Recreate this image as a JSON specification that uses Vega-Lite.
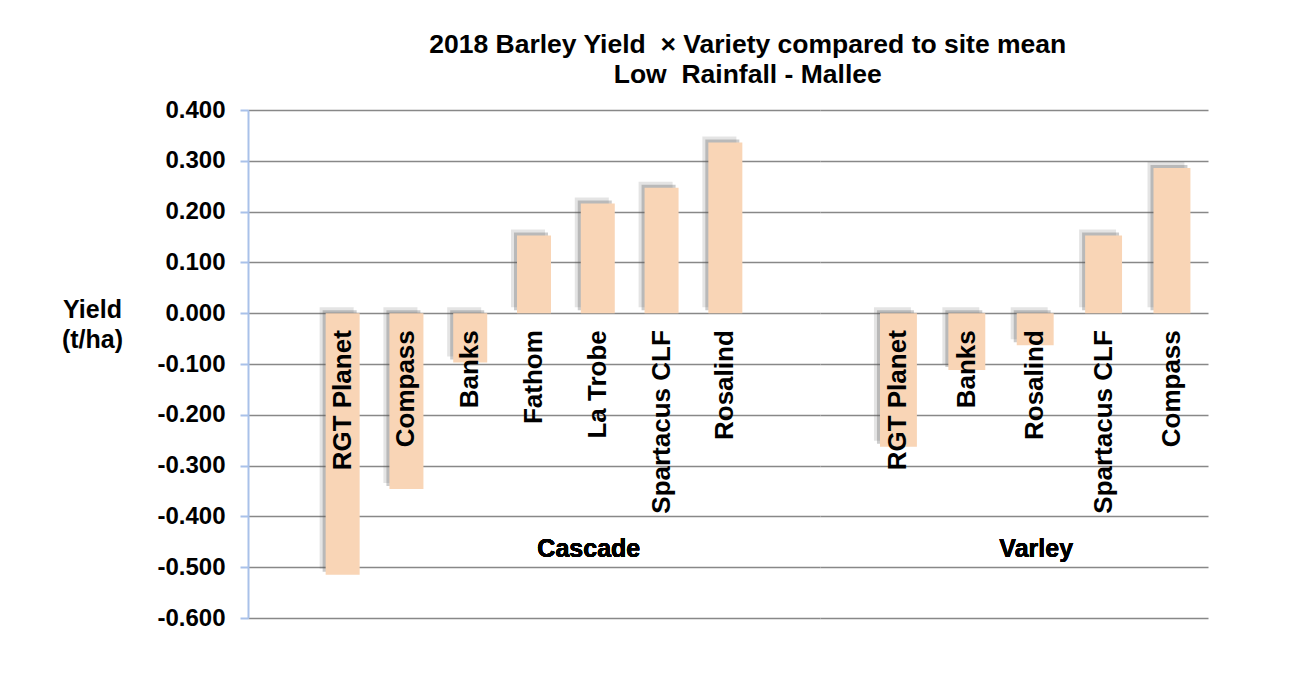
{
  "$schema": "https://vega.github.io/schema/vega-lite/v6.json",
  "background": "white",
  "padding": {"left": 61, "top": 31, "right": 5, "bottom": 5},
  "config": {"view": {"stroke": null}, "font": "Liberation Sans", "concat": {"spacing": 0}},
  "spacing": 0,
  "title": {
    "text": ["2018 Barley Yield\u00a0 × Variety compared to site mean", "Low\u00a0 Rainfall - Mallee"],
    "font": "Liberation Sans", "fontSize": 26.5, "fontWeight": "bold", "color": "#000000",
    "anchor": "middle", "dx": 113, "offset": 10, "lineHeight": 30
  },
  "data": {"values": [
    {"site": "Cascade", "variety": "RGT Planet", "yield": -0.515},
    {"site": "Cascade", "variety": "Compass", "yield": -0.346},
    {"site": "Cascade", "variety": "Banks", "yield": -0.097},
    {"site": "Cascade", "variety": "Fathom", "yield": 0.153},
    {"site": "Cascade", "variety": "La Trobe", "yield": 0.216},
    {"site": "Cascade", "variety": "Spartacus CLF", "yield": 0.247},
    {"site": "Cascade", "variety": "Rosalind", "yield": 0.336},
    {"site": "Varley", "variety": "RGT Planet", "yield": -0.263},
    {"site": "Varley", "variety": "Banks", "yield": -0.112},
    {"site": "Varley", "variety": "Rosalind", "yield": -0.063},
    {"site": "Varley", "variety": "Spartacus CLF", "yield": 0.153},
    {"site": "Varley", "variety": "Compass", "yield": 0.286}
  ]},
  "resolve": {"scale": {"x": "independent", "y": "independent"}},
  "hconcat": [
    {
      "width": 572, "height": 508,
      "transform": [{"filter": "datum.site === 'Cascade'"}],
      "encoding": {
        "x": {"field": "variety", "type": "nominal", "sort": null, "axis": null,
              "scale": {"paddingInner": 0, "paddingOuter": 0.984}}
      },
      "layer": [
        {
          "mark": {"type": "bar", "color": "#555555", "opacity": 0.16, "width": {"band": 0.533}, "xOffset": -6, "yOffset": -6, "y2Offset": -6},
          "encoding": {
            "y": {"field": "yield", "type": "quantitative",
                  "scale": {"domain": [-0.6, 0.4], "nice": false, "zero": false},
                  "axis": {
                    "values": [-0.6, -0.5, -0.4, -0.3, -0.2, -0.1, 0, 0.1, 0.2, 0.3, 0.4],
                    "labelExpr": "replace(format(datum.value, '.3f'), '−', '-')",
                    "labelFont": "Liberation Sans", "labelFontSize": 24, "labelFontWeight": "bold", "labelColor": "#000000",
                    "labelPadding": 15,
                    "tickColor": "#A9C1E9", "tickSize": 8, "tickWidth": 2,
                    "domainColor": "#A9C1E9", "domainWidth": 2,
                    "grid": true, "gridColor": "#888888", "gridWidth": 1.6,
                    "title": ["Yield", "(t/ha)"], "titleAngle": 0, "titleAlign": "center", "titleBaseline": "top",
                    "titleX": -156, "titleY": 187, "titleFont": "Liberation Sans", "titleFontSize": 25,
                    "titleFontWeight": "bold", "titleColor": "#000000", "titleLineHeight": 30
                  }}
          }
        },
        {
          "mark": {"type": "bar", "color": "#555555", "opacity": 0.3, "width": {"band": 0.533}, "xOffset": -3, "yOffset": -3, "y2Offset": -3},
          "encoding": {"y": {"field": "yield", "type": "quantitative"}}
        },
        {
          "mark": {"type": "bar", "color": "#F9D5B6", "width": {"band": 0.533}},
          "encoding": {"y": {"field": "yield", "type": "quantitative"}}
        },
        {
          "mark": {"type": "text", "angle": 270, "align": "right", "baseline": "middle", "dx": -17,
                   "font": "Liberation Sans", "fontSize": 26, "fontWeight": "bold", "color": "#000000"},
          "encoding": {"text": {"field": "variety"}, "y": {"datum": 0}}
        },
        {
          "mark": {"type": "text", "align": "center", "baseline": "middle", "dx": -9,
                   "font": "Liberation Sans", "fontSize": 25, "fontWeight": "bold", "color": "#000000"},
          "encoding": {"x": {"datum": "La Trobe"}, "y": {"datum": -0.465}, "text": {"value": "Cascade"}}
        }
      ]
    },
    {
      "width": 388, "height": 508,
      "transform": [{"filter": "datum.site === 'Varley'"}],
      "encoding": {
        "x": {"field": "variety", "type": "nominal", "sort": null, "axis": null,
              "scale": {"paddingInner": 0, "paddingOuter": 0.337, "align": 0.96}}
      },
      "layer": [
        {
          "mark": {"type": "bar", "color": "#555555", "opacity": 0.16, "width": {"band": 0.54}, "xOffset": -6, "yOffset": -6, "y2Offset": -6},
          "encoding": {
            "y": {"field": "yield", "type": "quantitative",
                  "scale": {"domain": [-0.6, 0.4], "nice": false, "zero": false},
                  "axis": {
                    "values": [-0.6, -0.5, -0.4, -0.3, -0.2, -0.1, 0, 0.1, 0.2, 0.3, 0.4],
                    "labels": false, "ticks": false, "domain": false, "title": null,
                    "grid": true, "gridColor": "#888888", "gridWidth": 1.6
                  }}
          }
        },
        {
          "mark": {"type": "bar", "color": "#555555", "opacity": 0.3, "width": {"band": 0.54}, "xOffset": -3, "yOffset": -3, "y2Offset": -3},
          "encoding": {"y": {"field": "yield", "type": "quantitative"}}
        },
        {
          "mark": {"type": "bar", "color": "#F9D5B6", "width": {"band": 0.54}},
          "encoding": {"y": {"field": "yield", "type": "quantitative"}}
        },
        {
          "mark": {"type": "text", "angle": 270, "align": "right", "baseline": "middle", "dx": -17,
                   "font": "Liberation Sans", "fontSize": 26, "fontWeight": "bold", "color": "#000000"},
          "encoding": {"text": {"field": "variety"}, "y": {"datum": 0}}
        },
        {
          "mark": {"type": "text", "align": "center", "baseline": "middle", "dx": 1,
                   "font": "Liberation Sans", "fontSize": 25, "fontWeight": "bold", "color": "#000000"},
          "encoding": {"x": {"datum": "Rosalind"}, "y": {"datum": -0.465}, "text": {"value": "Varley"}}
        }
      ]
    }
  ]
}
